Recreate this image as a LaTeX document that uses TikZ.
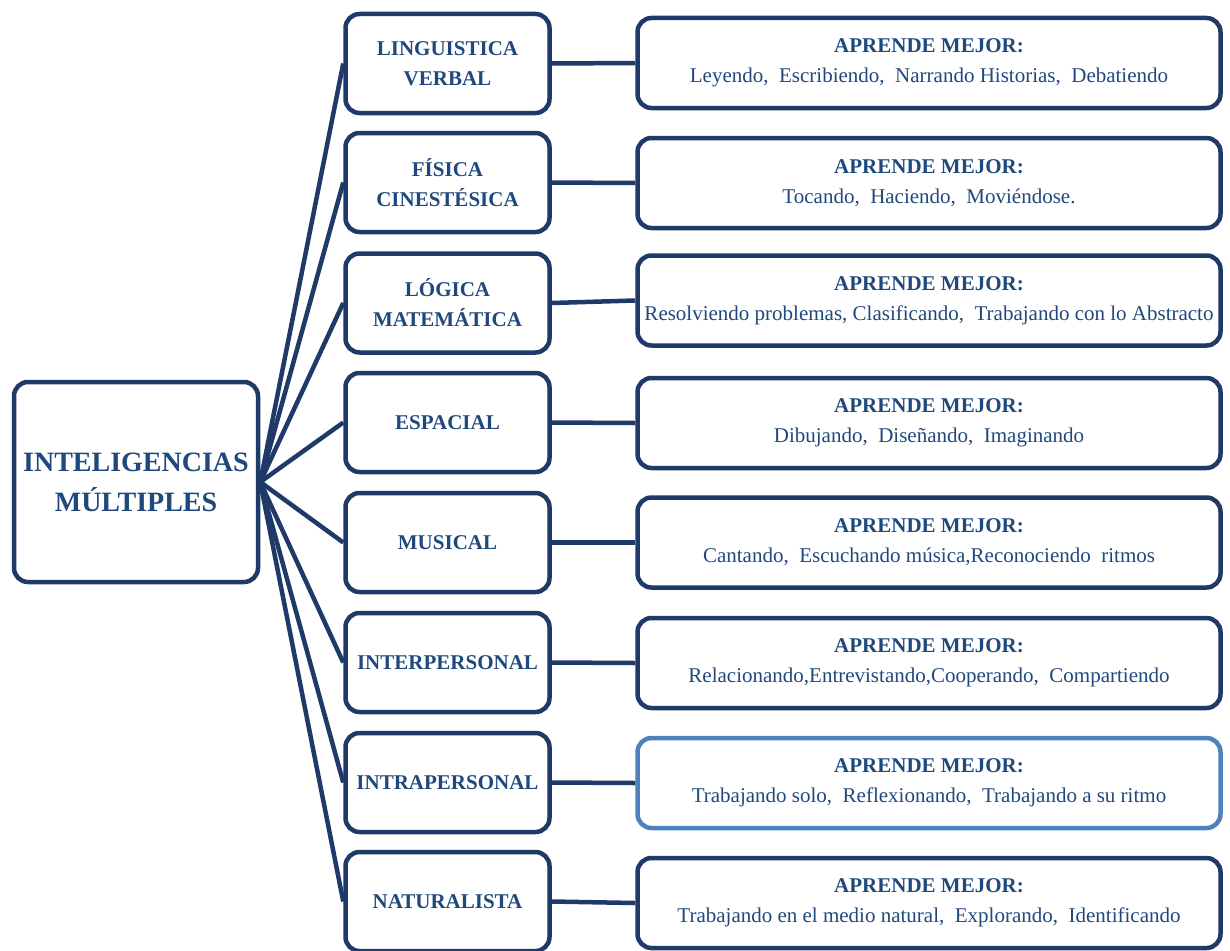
\documentclass[tikz,border=0pt]{standalone}
\usepackage{fontspec}
\setmainfont{Liberation Serif}
\definecolor{navy}{RGB}{31,58,104}
\definecolor{ink}{RGB}{31,73,125}
\definecolor{pale}{RGB}{79,129,189}
\tikzset{
  box/.style={draw=navy, line width=4.5pt, rounded corners=14pt, fill=white,
    text=ink, align=center, inner sep=0pt},
  root/.style={box, minimum width=244pt, minimum height=200pt,
    font=\fontsize{28}{40}\selectfont\bfseries},
  kind/.style={box, minimum width=204pt, minimum height=99pt,
    font=\fontsize{21}{30}\selectfont\bfseries},
  learn/.style={box, minimum width=583pt, minimum height=90pt,
    font=\fontsize{21}{30}\selectfont},
  link/.style={draw=navy, line width=4.5pt},
}
\newcommand{\apr}{\textbf{APRENDE MEJOR:}\\}
\begin{document}
\begin{tikzpicture}[x=1pt, y=-1pt]
    \useasboundingbox (0,0) rectangle (1230,950);
    \node[root] (im) at (136,482) {INTELIGENCIAS\\M\'ULTIPLES};
    % middle column
    \node[kind] (ling) at (447.5,63.5) {LINGUISTICA\\VERBAL};
    \node[kind] (fis) at (447.5,182.5) {F\'ISICA\\CINEST\'ESICA};
    \node[kind] (log) at (447.5,303) {L\'OGICA\\MATEM\'ATICA};
    \node[kind] (esp) at (447.5,422.5) {ESPACIAL};
    \node[kind] (mus) at (447.5,542.5) {MUSICAL};
    \node[kind] (inter) at (447.5,662.5) {INTERPERSONAL};
    \node[kind] (intra) at (447.5,782.5) {INTRAPERSONAL};
    \node[kind] (nat) at (447.5,901.5) {NATURALISTA};
    % right column
    \node[learn] (ling-a) at (929,63) {\apr Leyendo, \ Escribiendo, \ Narrando Historias, \ Debatiendo};
    \node[learn] (fis-a) at (929,183) {\apr Tocando, \ Haciendo, \ Movi\'endose.};
    \node[learn] (log-a) at (929,300.5) {\apr Resolviendo problemas, Clasificando, \ Trabajando con lo Abstracto};
    \node[learn] (esp-a) at (929,423) {\apr Dibujando, \ Dise\~nando, \ Imaginando};
    \node[learn] (mus-a) at (929,542.5) {\apr Cantando, \ Escuchando m\'usica,Reconociendo \ ritmos};
    \node[learn] (inter-a) at (929,663) {\apr Relacionando,Entrevistando,Cooperando, \ Compartiendo};
    \node[learn, draw=pale] (intra-a) at (929,783) {\apr Trabajando solo, \ Reflexionando, \ Trabajando a su ritmo};
    \node[learn] (nat-a) at (929,903) {\apr Trabajando en el medio natural, \ Explorando, \ Identificando};
    % links
    \draw[link] (im.east) -- (ling.west);
    \draw[link] (im.east) -- (fis.west);
    \draw[link] (im.east) -- (log.west);
    \draw[link] (im.east) -- (esp.west);
    \draw[link] (im.east) -- (mus.west);
    \draw[link] (im.east) -- (inter.west);
    \draw[link] (im.east) -- (intra.west);
    \draw[link] (im.east) -- (nat.west);
    \draw[link] (ling.east) -- (ling-a.west);
    \draw[link] (fis.east) -- (fis-a.west);
    \draw[link] (log.east) -- (log-a.west);
    \draw[link] (esp.east) -- (esp-a.west);
    \draw[link] (mus.east) -- (mus-a.west);
    \draw[link] (inter.east) -- (inter-a.west);
    \draw[link] (intra.east) -- (intra-a.west);
    \draw[link] (nat.east) -- (nat-a.west);
\end{tikzpicture}
\end{document}
